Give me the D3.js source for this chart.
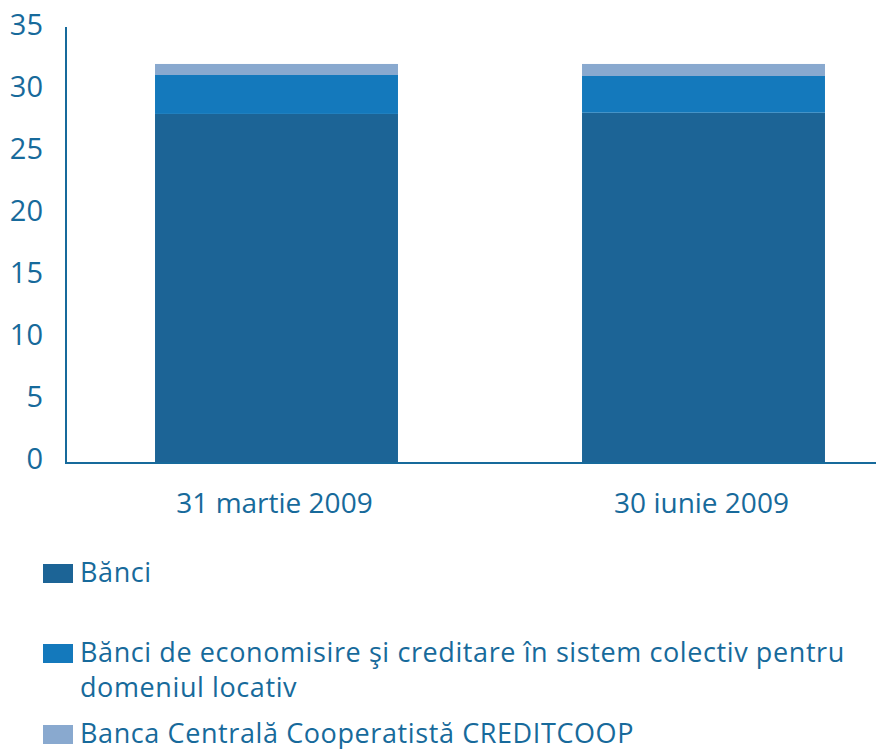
<!DOCTYPE html>
<html><head><meta charset="utf-8">
<script src="https://cdn.jsdelivr.net/npm/d3@7"></script>
<style>body{margin:0;background:#fff}svg{display:block}</style>
</head><body>
<script>
const categories = ["31 martie 2009", "30 iunie 2009"];
const seriesNames = [
  "Bănci",
  "Bănci de economisire şi creditare în sistem colectiv pentru domeniul locativ",
  "Banca Centrală Cooperatistă CREDITCOOP"
];
const banci = [28.15, 28.25];
const bec = [3.14, 2.96];
const creditcoop = [0.89, 0.97];
const yTicks = [0, 5, 10, 15, 20, 25, 30, 35];
const colors = ["#1c6496", "#1479bc", "#89a9cf"];
const legendLines = [["Bănci"], ["Bănci de economisire şi creditare în sistem colectiv pentru", "domeniul locativ"], ["Banca Centrală Cooperatistă CREDITCOOP"]];

const W = 876, H = 749, textColor = "#176a9b", font = "'Open Sans', sans-serif";
const svg = d3.select("body").append("svg").attr("width", W).attr("height", H);

const y = d3.scaleLinear().domain([0, 35]).range([463, 29]);
const x = d3.scaleBand().domain(categories).range([63, 917]).paddingInner(0.431).paddingOuter(0.2155);

const rows = categories.map((c, i) => ({cat: c, v: [banci[i], bec[i], creditcoop[i]]}));
const stack = d3.stack().keys([0, 1, 2]).value((d, k) => d.v[k])(rows);

svg.append("g").selectAll("g").data(stack).join("g")
  .attr("fill", (d, i) => colors[i])
  .selectAll("rect").data(d => d).join("rect")
  .attr("x", d => x(d.data.cat)).attr("width", x.bandwidth())
  .attr("y", d => y(d[1])).attr("height", d => y(d[0]) - y(d[1]));

// axes lines
svg.append("line").attr("x1", 66).attr("x2", 66).attr("y1", 27).attr("y2", 464)
  .attr("stroke", textColor).attr("stroke-width", 2);
svg.append("line").attr("x1", 65).attr("x2", 876).attr("y1", 463).attr("y2", 463)
  .attr("stroke", textColor).attr("stroke-width", 2);

// y labels
svg.append("g").selectAll("text").data(yTicks).join("text")
  .attr("x", 43).attr("y", d => y(d) - 3)
  .attr("dy", "0.32em")
  .attr("text-anchor", "end").attr("fill", textColor)
  .style("font-family", font).style("font-size", "29px")
  .text(d => d);

// x labels
svg.append("g").selectAll("text").data(categories).join("text")
  .attr("x", d => x(d) + x.bandwidth() / 2 - 2).attr("y", 513)
  .attr("text-anchor", "middle").attr("fill", textColor)
  .style("font-family", font).style("font-size", "28px")
  .text(d => d);

// legend
const legY = [564, 644, 725];
const lg = svg.append("g");
legendLines.forEach((lines, i) => {
  lg.append("rect").attr("x", 43).attr("y", legY[i]).attr("width", 30).attr("height", 19).attr("fill", colors[i]);
  lines.forEach((t, j) => {
    lg.append("text").attr("x", 80).attr("y", legY[i] + 18 + j * 35)
      .attr("fill", textColor).style("font-family", font).style("font-size", "27px")
      .style("letter-spacing", "0.6px")
      .text(t);
  });
});
</script>
</body></html>
